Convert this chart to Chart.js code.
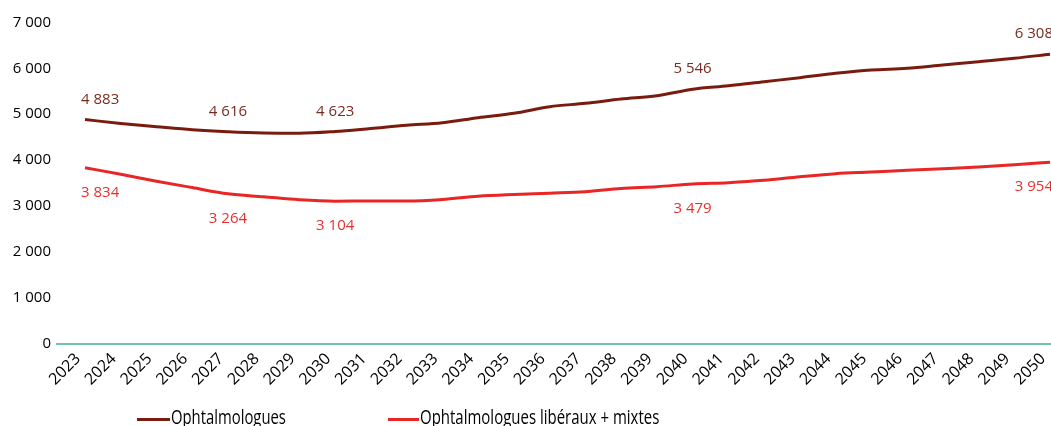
<!DOCTYPE html>
<html>
<head>
<meta charset="utf-8">
<script src="https://cdn.jsdelivr.net/npm/chart.js@4.4.0/dist/chart.umd.min.js"></script>
<style>
  html, body { margin: 0; padding: 0; background: #fff; overflow: hidden; }
  #wrap { position: relative; width: 1051px; height: 426px; }
  .swatch { position: absolute; height: 3px; }
  .legtext { position: absolute; font: 20px "Open Sans", sans-serif; line-height: 20px;
             white-space: nowrap; transform-origin: 0 0; color: #000; }
</style>
</head>
<body>
<div id="wrap">
  <canvas id="myChart" width="1051" height="426"></canvas>
  <div class="swatch" style="left:137px;top:418px;width:33px;background:#7a1b10"></div>
  <div class="legtext" id="leg1" style="left:171px;top:407px">Ophtalmologues</div>
  <div class="swatch" style="left:388px;top:418px;width:31px;background:#e82626"></div>
  <div class="legtext" id="leg2" style="left:420px;top:407px">Ophtalmologues libéraux + mixtes</div>
</div>
<script>
// data
const years = [2023, 2024, 2025, 2026, 2027, 2028, 2029, 2030, 2031, 2032, 2033, 2034, 2035, 2036,
  2037, 2038, 2039, 2040, 2041, 2042, 2043, 2044, 2045, 2046, 2047, 2048, 2049, 2050];
const ophtalmologues = [4883, 4800, 4728, 4660, 4616, 4590, 4585, 4623, 4690, 4760, 4815, 4924, 5020, 5164,
  5237, 5331, 5404, 5546, 5620, 5709, 5796, 5891, 5964, 6000, 6073, 6145, 6219, 6308];
const liberauxMixtes = [3834, 3690, 3540, 3400, 3264, 3200, 3135, 3104, 3108, 3106, 3140, 3212, 3250, 3278,
  3310, 3382, 3420, 3479, 3508, 3558, 3636, 3703, 3738, 3776, 3810, 3848, 3898, 3954];
const labelledYears = [2023, 2027, 2030, 2040, 2050];
const yTicks = [0, 1000, 2000, 3000, 4000, 5000, 6000, 7000];

const darkRed = '#7a1b10';
const red = '#e82626';
const teal = '#6ec4ac';
const pxPerYear = 35.74;

const fmt = v => String(v).replace(/\B(?=(\d{3})+(?!\d))/g, ' ');

const ctx = document.getElementById('myChart').getContext('2d');

// value labels above / below the lines
const valueLabels = {
  id: 'valueLabels',
  afterDatasetsDraw(chart) {
    const c = chart.ctx;
    c.save();
    c.font = '15px "Open Sans", sans-serif';
    c.textBaseline = 'alphabetic';
    chart.data.datasets.forEach((ds, di) => {
      const meta = chart.getDatasetMeta(di);
      c.fillStyle = ds.labelColor;
      labelledYears.forEach(yr => {
        const i = years.indexOf(yr);
        const pt = meta.data[i];
        let x = pt.x;
        c.textAlign = 'center';
        if (i === 0) { c.textAlign = 'left'; x = pt.x - 4; }
        if (i === years.length - 1) { c.textAlign = 'right'; x = pt.x + 3; }
        const y = di === 0 ? pt.y - 16 : pt.y + 29;
        c.fillText(fmt(ds.data[i].y), x, y);
      });
    });
    c.restore();
  }
};

let myChart = new Chart(ctx, {
  type: 'line',
  data: {
    datasets: [
      {
        label: 'Ophtalmologues',
        data: years.map((yr, i) => ({ x: yr, y: ophtalmologues[i] })),
        borderColor: darkRed,
        labelColor: '#7b2a1f',
        borderWidth: 3,
        pointRadius: 0,
        cubicInterpolationMode: 'monotone',
      },
      {
        label: 'Ophtalmologues libéraux + mixtes',
        data: years.map((yr, i) => ({ x: yr, y: liberauxMixtes[i] })),
        borderColor: red,
        labelColor: '#e8302e',
        borderWidth: 3,
        pointRadius: 0,
        cubicInterpolationMode: 'monotone',
      },
    ],
  },
  options: {
    responsive: false,
    animation: false,
    layout: { padding: { top: 22.5, bottom: 26, left: 0, right: 0 } },
    plugins: {
      legend: { display: false },
      tooltip: { enabled: false },
    },
    scales: {
      x: {
        type: 'linear',
        min: 2023 - 28 / pxPerYear,
        max: 2050 + 1 / pxPerYear,
        grid: { display: false, drawTicks: false },
        border: { display: true, color: teal, width: 2 },
        ticks: {
          color: '#000',
          font: { family: 'Open Sans', size: 16 },
          minRotation: 45,
          maxRotation: 45,
          padding: 6,
          labelOffset: -7,
          callback: v => String(v),
        },
        afterBuildTicks: s => { s.ticks = years.map(v => ({ value: v })); },
        afterFit: s => { s.height = 56.5; s.paddingLeft = 0; s.paddingRight = 0; },
      },
      y: {
        min: 0,
        max: 7000,
        grid: { display: false, drawTicks: false },
        border: { display: false },
        ticks: {
          color: '#000',
          font: { family: 'Open Sans', size: 15 },
          padding: 6,
          callback: v => fmt(v),
        },
        afterBuildTicks: s => { s.ticks = yTicks.map(v => ({ value: v })); },
        afterFit: s => { s.width = 57; },
      },
    },
  },
  plugins: [valueLabels],
});

// squeeze the legend text like the narrow font of the original
[['leg1', 115], ['leg2', 239]].forEach(([id, w]) => {
  const el = document.getElementById(id);
  el.style.transform = 'scaleX(' + (w / el.offsetWidth) + ')';
});
</script>
</body>
</html>
